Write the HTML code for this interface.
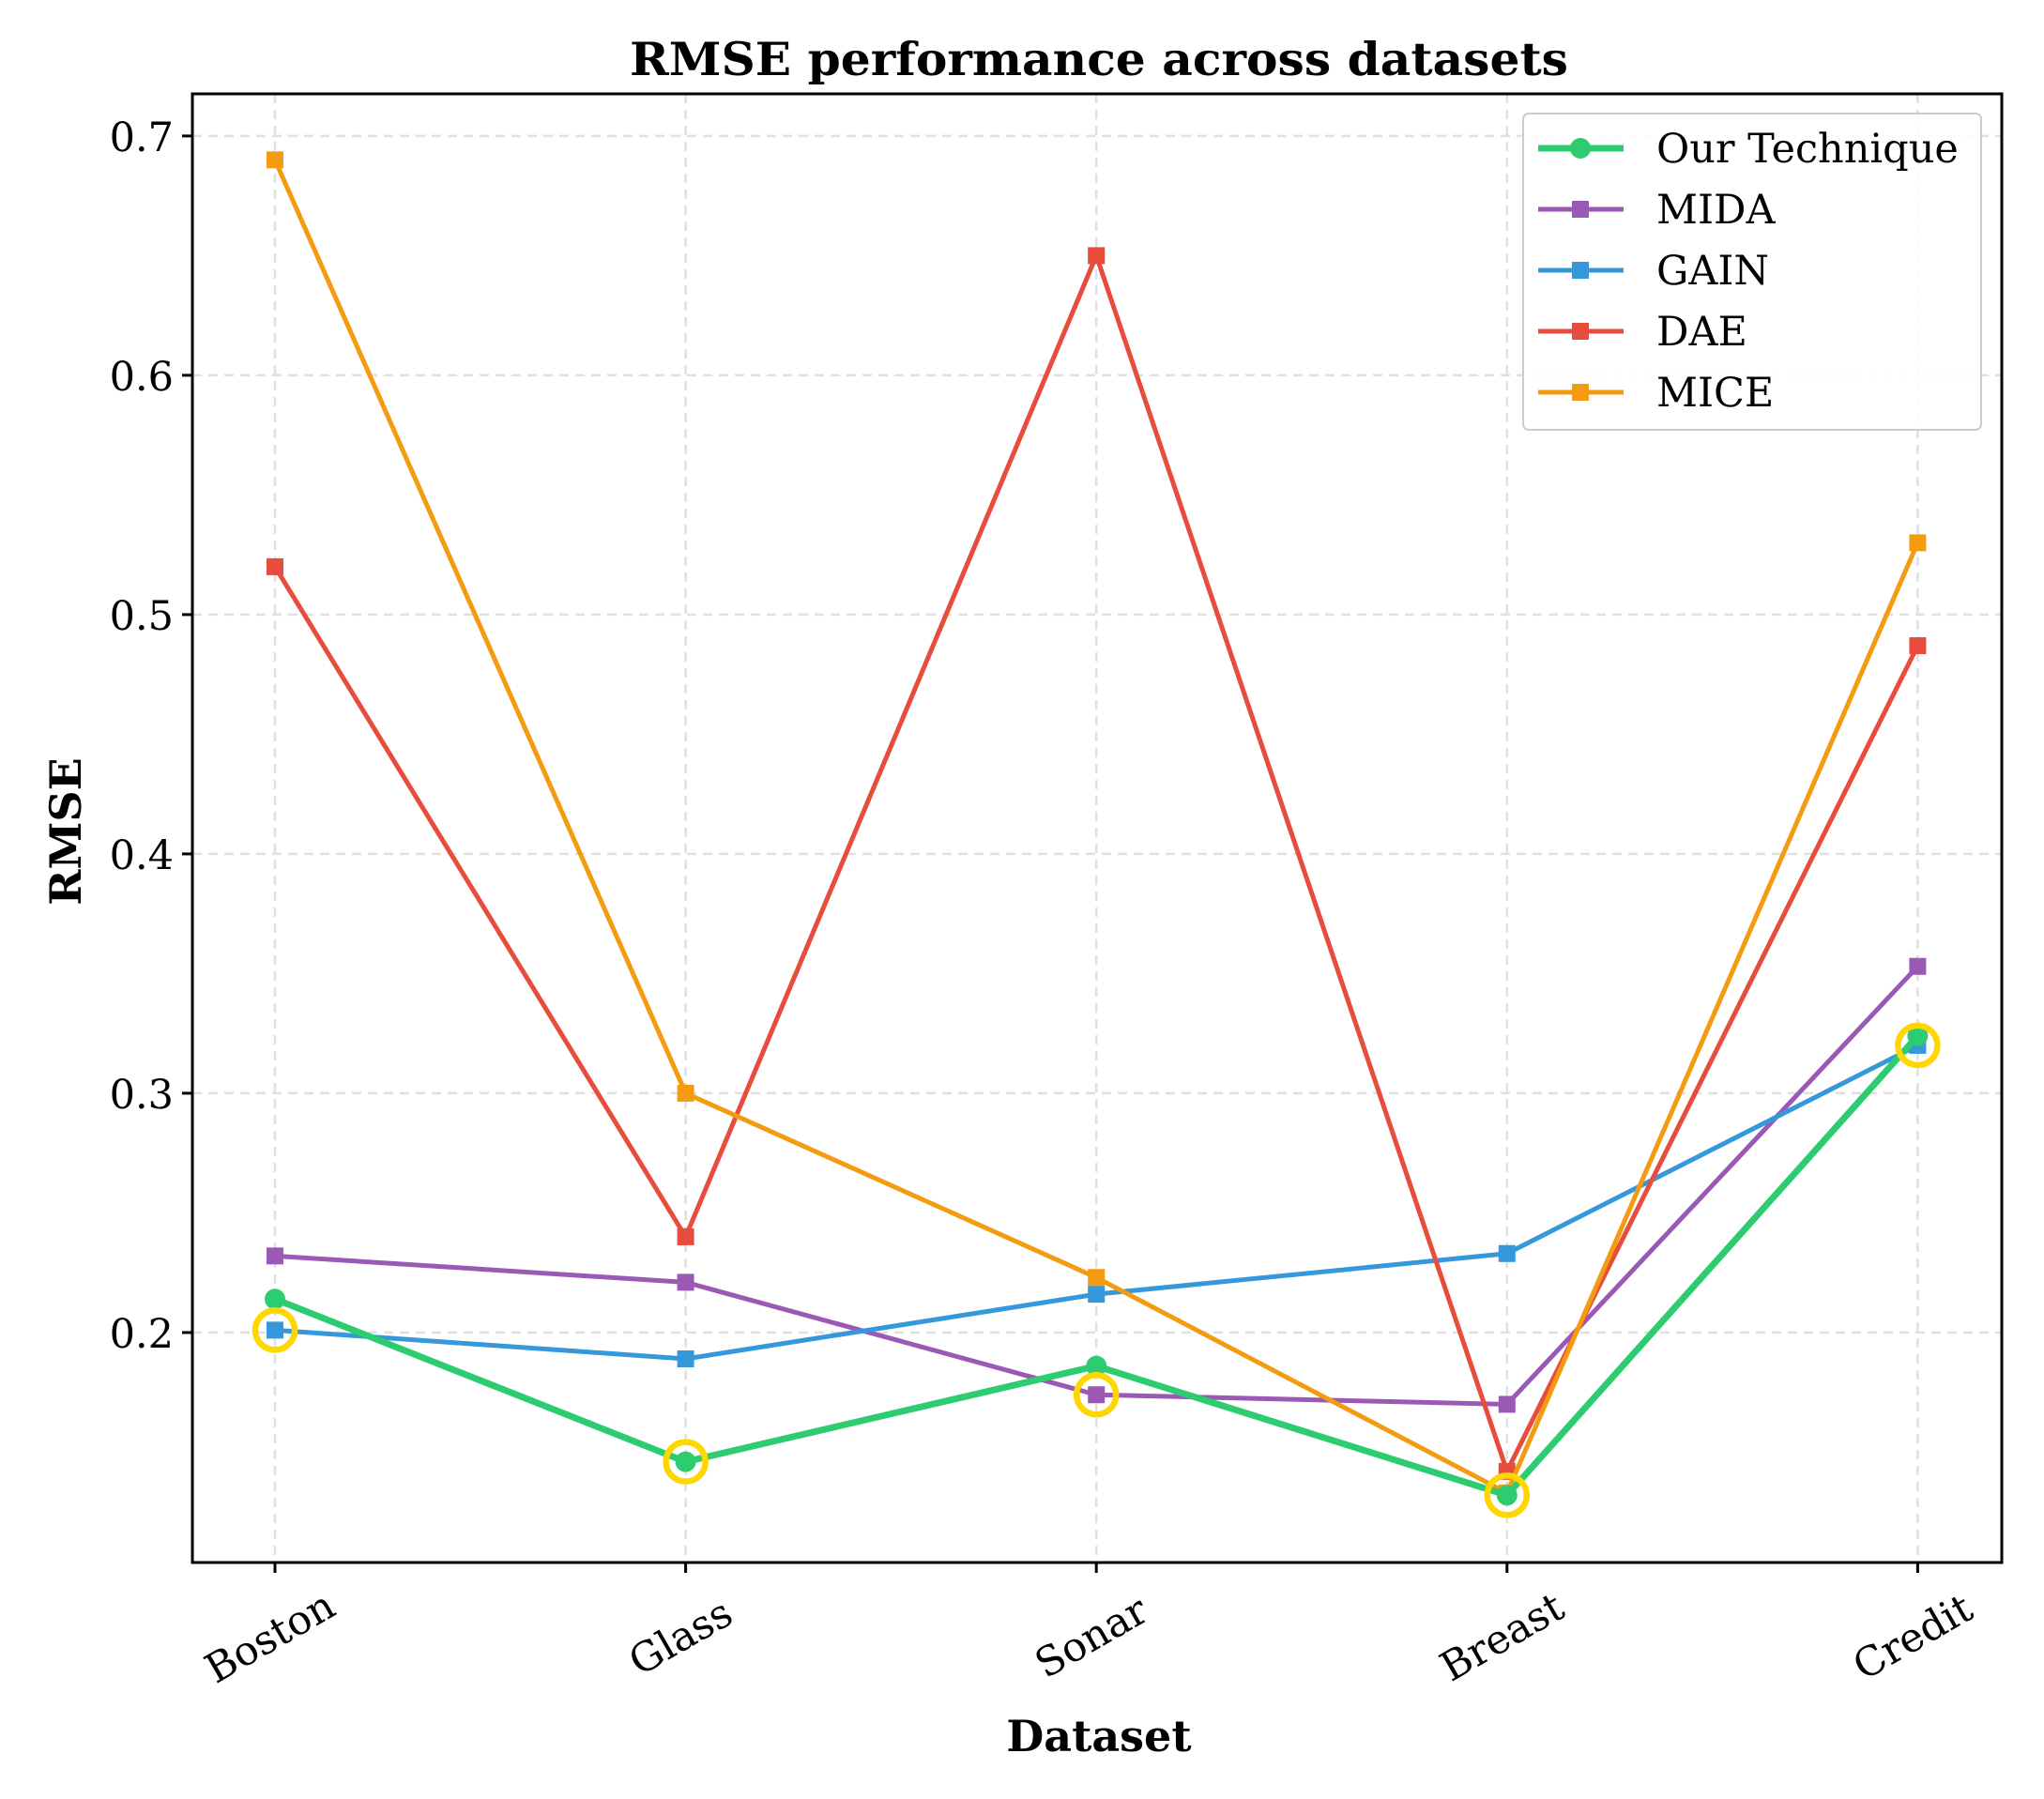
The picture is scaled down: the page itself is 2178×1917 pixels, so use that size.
<!DOCTYPE html>
<html><head><meta charset="utf-8"><style>
html,body{margin:0;padding:0;background:#fff}
svg{display:block;font-family:"DejaVu Serif","Liberation Serif",serif}
</style></head><body>
<svg id="chart" width="2178" height="1917" viewBox="0 0 2178 1917" xmlns="http://www.w3.org/2000/svg">
<rect width="2178" height="1917" fill="#fff"/>
<text x="1171" y="80" text-anchor="middle" font-size="49" font-weight="bold" textLength="1000" lengthAdjust="spacingAndGlyphs">RMSE performance across datasets</text>
<g id="grid"></g>
<g id="series"></g>
<g id="axes"></g>
<text x="1171" y="1866" text-anchor="middle" font-size="46" font-weight="bold">Dataset</text>
<text transform="translate(86,886) rotate(-90)" text-anchor="middle" font-size="46" font-weight="bold">RMSE</text>
<g id="legend"></g>
</svg>
<script>
const categories = ["Boston","Glass","Sonar","Breast","Credit"];
const seriesNames = ["Our Technique","MIDA","GAIN","DAE","MICE"];
const ourTechnique = [0.214,0.146,0.186,0.132,0.324];
const mida = [0.232,0.221,0.174,0.170,0.353];
const gain = [0.201,0.189,0.216,0.233,0.320];
const dae = [0.520,0.240,0.650,0.142,0.487];
const mice = [0.690,0.300,0.223,0.133,0.530];
const yTicks = [0.2,0.3,0.4,0.5,0.6,0.7];
const yTickLabels = ["0.2","0.3","0.4","0.5","0.6","0.7"];

const NS="http://www.w3.org/2000/svg";
const L=205,R=2133,T=100,B=1665;
const yMin=0.1039,yMax=0.7176;
function xPos(i){return 293+i*437.6;}
function yPos(v){return B-(v-yMin)/(yMax-yMin)*(B-T);}
function mk(tag,attrs,parent){const e=document.createElementNS(NS,tag);for(const k in attrs)e.setAttribute(k,attrs[k]);parent.appendChild(e);return e;}
const grid=document.getElementById('grid'),axes=document.getElementById('axes'),ser=document.getElementById('series'),leg=document.getElementById('legend');

yTicks.forEach((v,i)=>{
  const y=yPos(v);
  const g=mk('line',{x1:L,x2:R,y1:y,y2:y,stroke:'#e0e0e0','stroke-width':2.5,'stroke-dasharray':'10,7'},grid);
  
  
  const t=mk('line',{x1:L-11,x2:L,y1:y,y2:y,stroke:'#000','stroke-width':3},axes);
  
  
  const lb=mk('text',{x:L-20,y:y+16,'text-anchor':'end','font-size':43},axes);
  lb.textContent=yTickLabels[i];
  
  
});
categories.forEach((c,i)=>{
  const x=xPos(i);
  const g=mk('line',{x1:x,x2:x,y1:T,y2:B,stroke:'#e0e0e0','stroke-width':2.5,'stroke-dasharray':'10,7'},grid);
  
  
  const t=mk('line',{x1:x,x2:x,y1:B,y2:B+11,stroke:'#000','stroke-width':3},axes);
  
  
  const lb=mk('text',{transform:`translate(${x+2},${B+92}) rotate(-30)`,'text-anchor':'middle','font-size':43},axes);
  lb.textContent=c;
  
  
});
const frame=mk('rect',{x:L,y:T,width:R-L,height:B-T,fill:'none',stroke:'#000','stroke-width':3},axes);



const data=[ourTechnique,mida,gain,dae,mice];
const colors=['#2ecc71','#9b59b6','#3498db','#e74c3c','#f39c12'];
const widths=[7,5,5,5,5];
const order=[1,2,3,4,0];
order.forEach(s=>{
  const vals=data[s];
  const pts=vals.map((v,i)=>xPos(i)+','+yPos(v)).join(' ');
  const pl=mk('polyline',{points:pts,fill:'none',stroke:colors[s],'stroke-width':widths[s],'stroke-linejoin':'round'},ser);
  
  
  vals.forEach((v,i)=>{
    let m;
    if(s===0){m=mk('circle',{cx:xPos(i),cy:yPos(v),r:11,fill:colors[s]},ser);}
    else{m=mk('rect',{x:xPos(i)-9,y:yPos(v)-9,width:18,height:18,fill:colors[s]},ser);}
    
    
  });
});
categories.forEach((c,i)=>{
  const mn=Math.min(...data.map(d=>d[i]));
  const h=mk('circle',{cx:xPos(i),cy:yPos(mn),r:21,fill:'none',stroke:'#ffd700','stroke-width':6.5},ser);
  
  
});

const lbox=mk('rect',{x:1623,y:121,width:488,height:337,rx:6,fill:'#fff','fill-opacity':0.85,stroke:'#ccc','stroke-width':2},leg);


seriesNames.forEach((n,s)=>{
  const y=158+s*65;
  const g=mk('g',{},leg);
  
  
  mk('line',{x1:1639,x2:1730,y1:y,y2:y,stroke:colors[s],'stroke-width':widths[s]},g);
  if(s===0) mk('circle',{cx:1684,cy:y,r:11,fill:colors[s]},g);
  else mk('rect',{x:1675,y:y-9,width:18,height:18,fill:colors[s]},g);
  const t=mk('text',{x:1765,y:y+15,'font-size':43},g);
  t.textContent=n;
});
</script>
</body></html>
